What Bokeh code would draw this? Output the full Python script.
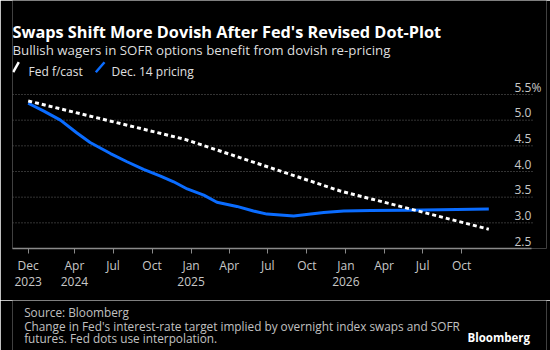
import pandas as pd
from bokeh.plotting import figure
from bokeh.layouts import column
from bokeh.models import Range1d, FixedTicker
from bokeh.core.properties import value
from bokeh.embed import file_html
from bokeh.resources import INLINE

# ---------------- data ----------------
title = "Swaps Shift More Dovish After Fed's Revised Dot-Plot"
subtitle = "Bullish wagers in SOFR options benefit from dovish re-pricing"
series_names = ["Fed f/cast", "Dec. 14 pricing"]

fed_dates = ["2023-12-14", "2024-12-18", "2025-12-17", "2026-12-04"]
fed_values = [5.375, 4.625, 3.625, 2.875]

pricing_dates = ["2023-12-14", "2024-01-20", "2024-02-28", "2024-04-07", "2024-05-08",
                 "2024-06-25", "2024-08-03", "2024-09-11", "2024-10-21", "2024-11-21",
                 "2024-12-23", "2025-01-31", "2025-03-03", "2025-04-19", "2025-05-28",
                 "2025-06-29", "2025-08-31", "2025-10-10", "2025-11-10", "2025-12-27",
                 "2026-02-28", "2026-05-22", "2026-08-12", "2026-12-04"]
pricing_values = [5.33, 5.175, 5.0, 4.75, 4.565,
                  4.35, 4.19, 4.04, 3.91, 3.80,
                  3.66, 3.54, 3.40, 3.32, 3.23,
                  3.17, 3.135, 3.17, 3.20, 3.23,
                  3.24, 3.245, 3.255, 3.27]

x_tick_dates = ["2023-12-14", "2024-04-01", "2024-07-01", "2024-10-01", "2025-01-01",
                "2025-04-01", "2025-07-01", "2025-10-01", "2026-01-01", "2026-04-01",
                "2026-07-01", "2026-10-01"]
x_tick_labels = ["Dec\n2023", "Apr\n2024", "Jul", "Oct", "Jan\n2025", "Apr", "Jul", "Oct",
                 "Jan\n2026", "Apr", "Jul", "Oct"]
y_ticks = [2.5, 3.0, 3.5, 4.0, 4.5, 5.0, 5.5]
y_tick_labels = ["2.5", "3.0", "3.5", "4.0", "4.5", "5.0", "5.5%"]

source_line = "Source: Bloomberg"
note_lines = ["Change in Fed's interest-rate target implied by overnight index swaps and SOFR",
              "futures. Fed dots use interpolation."]
brand = "Bloomberg"

# ---------------- styling ----------------
FONT = "Open Sans"
BLUE = "#0a6cff"
GRID = "#666666"
AXIS = "#8a8a8a"
TICK_TEXT = "#c8c8c8"
W = 550
MAIN_H = 300
FRAME_BOTTOM = 248      # pixel row of the x axis line
FRAME_LEFT, FRAME_RIGHT = 12, 546
PX_PER_DAY = 0.42414


def txt(f, s, x, y, size, color, bold=False, align="left", **kw):
    f.text(x=[x], y=[y], text=[s], text_font=value(FONT), text_font_size=size,
           text_color=color, text_font_style="bold" if bold else "normal",
           text_align=align, text_baseline="alphabetic", **kw)


# ---------------- chart (header lives inside its frame) ----------------
fed_x = pd.to_datetime(fed_dates)
pr_x = pd.to_datetime(pricing_dates)
x_start = pd.Timestamp("2023-11-07")
x_end = x_start + pd.Timedelta(days=(FRAME_RIGHT - FRAME_LEFT) / PX_PER_DAY)
x_axis_end = x_start + pd.Timedelta(days=(531 - FRAME_LEFT) / PX_PER_DAY)
# 5.5 sits at pixel row 94.3 and 2.5 at row 248 -> 51.33 px per percentage point
y_top = 2.5 + FRAME_BOTTOM / 51.33

p = figure(width=W, height=MAIN_H, x_axis_type="datetime", output_backend="svg",
           toolbar_location=None, x_range=Range1d(x_start, x_end),
           y_range=Range1d(2.5, y_top), y_axis_location=None,
           min_border_left=FRAME_LEFT, min_border_right=W - FRAME_RIGHT, min_border_top=0,
           min_border_bottom=MAIN_H - FRAME_BOTTOM,
           background_fill_color="black", border_fill_color="black", outline_line_color=None)
p.grid.visible = False
# pixel-like helper ranges for header text and grid extent
p.extra_x_ranges = {"px": Range1d(FRAME_LEFT, FRAME_RIGHT)}
p.extra_y_ranges = {"py": Range1d(FRAME_BOTTOM, 0)}

# dotted horizontal grid lines at the tick values
p.segment(x0=[FRAME_LEFT] * 6, x1=[533] * 6, y0=y_ticks[1:], y1=y_ticks[1:],
          x_range_name="px", line_color=GRID, line_width=1, line_dash="1 2")

tick_ms = [pd.Timestamp(d).value / 1e6 for d in x_tick_dates]
ax = p.xaxis[0]
ax.ticker = FixedTicker(ticks=tick_ms)
ax.major_label_overrides = {t: l for t, l in zip(tick_ms, x_tick_labels)}
ax.bounds = (x_start, x_axis_end)
ax.axis_line_color = AXIS
ax.axis_line_width = 1.5
ax.major_tick_line_color = AXIS
ax.major_tick_out = 5
ax.major_tick_in = 0
ax.minor_tick_out = 0
ax.minor_tick_in = 0
ax.major_label_standoff = 3
ax.major_label_text_color = TICK_TEXT
ax.major_label_text_font = FONT
ax.major_label_text_font_size = "12px"
ax.major_label_text_line_height = 0.95

p.line(x=pr_x, y=pricing_values, line_color=BLUE, line_width=3, line_join="round")
p.line(x=fed_x, y=fed_values, line_color="white", line_width=3, line_dash="4 3")

p.text(x=[514] * len(y_ticks), y=y_ticks, text=y_tick_labels, x_range_name="px",
       y_offset=-7.5, text_align="left", text_baseline="alphabetic", text_font=value(FONT),
       text_font_size="12px", text_color=TICK_TEXT)

hdr = dict(x_range_name="px", y_range_name="py")
txt(p, title, 12, 31.5, "16.3px", "white", bold=True, **hdr)
txt(p, subtitle, 12, 49.5, "13.3px", "#dedede", **hdr)
p.segment(x0=[12.7, 95.3], y0=[71.7, 71.7], x1=[18.3, 104.0], y1=[61.7, 61.7],
          line_color=["white", BLUE], line_width=2.5, **hdr)
txt(p, series_names[0], 28, 70.7, "12px", "#e0e0e0", **hdr)
txt(p, series_names[1], 111, 70.7, "12px", "#e0e0e0", **hdr)

# ---------------- footer ----------------
BOT_H = 350 - MAIN_H
bot = figure(width=W, height=BOT_H, output_backend="svg", toolbar_location=None,
             x_range=Range1d(0, W), y_range=Range1d(350, MAIN_H),
             x_axis_location=None, y_axis_location=None, min_border=0,
             background_fill_color="black", border_fill_color="black", outline_line_color=None)
bot.grid.visible = False
txt(bot, source_line, 12, 311.2, "11.8px", "#c0c0c0")
txt(bot, note_lines[0], 12, 325.2, "11.8px", "#c0c0c0")
txt(bot, note_lines[1], 12, 337.2, "11.8px", "#c0c0c0")
txt(bot, brand, 533, 337.0, "11.5px", "white", bold=True, align="right")

layout = column(p, bot, spacing=0)
open("out.html", "w").write(file_html(layout, INLINE))
